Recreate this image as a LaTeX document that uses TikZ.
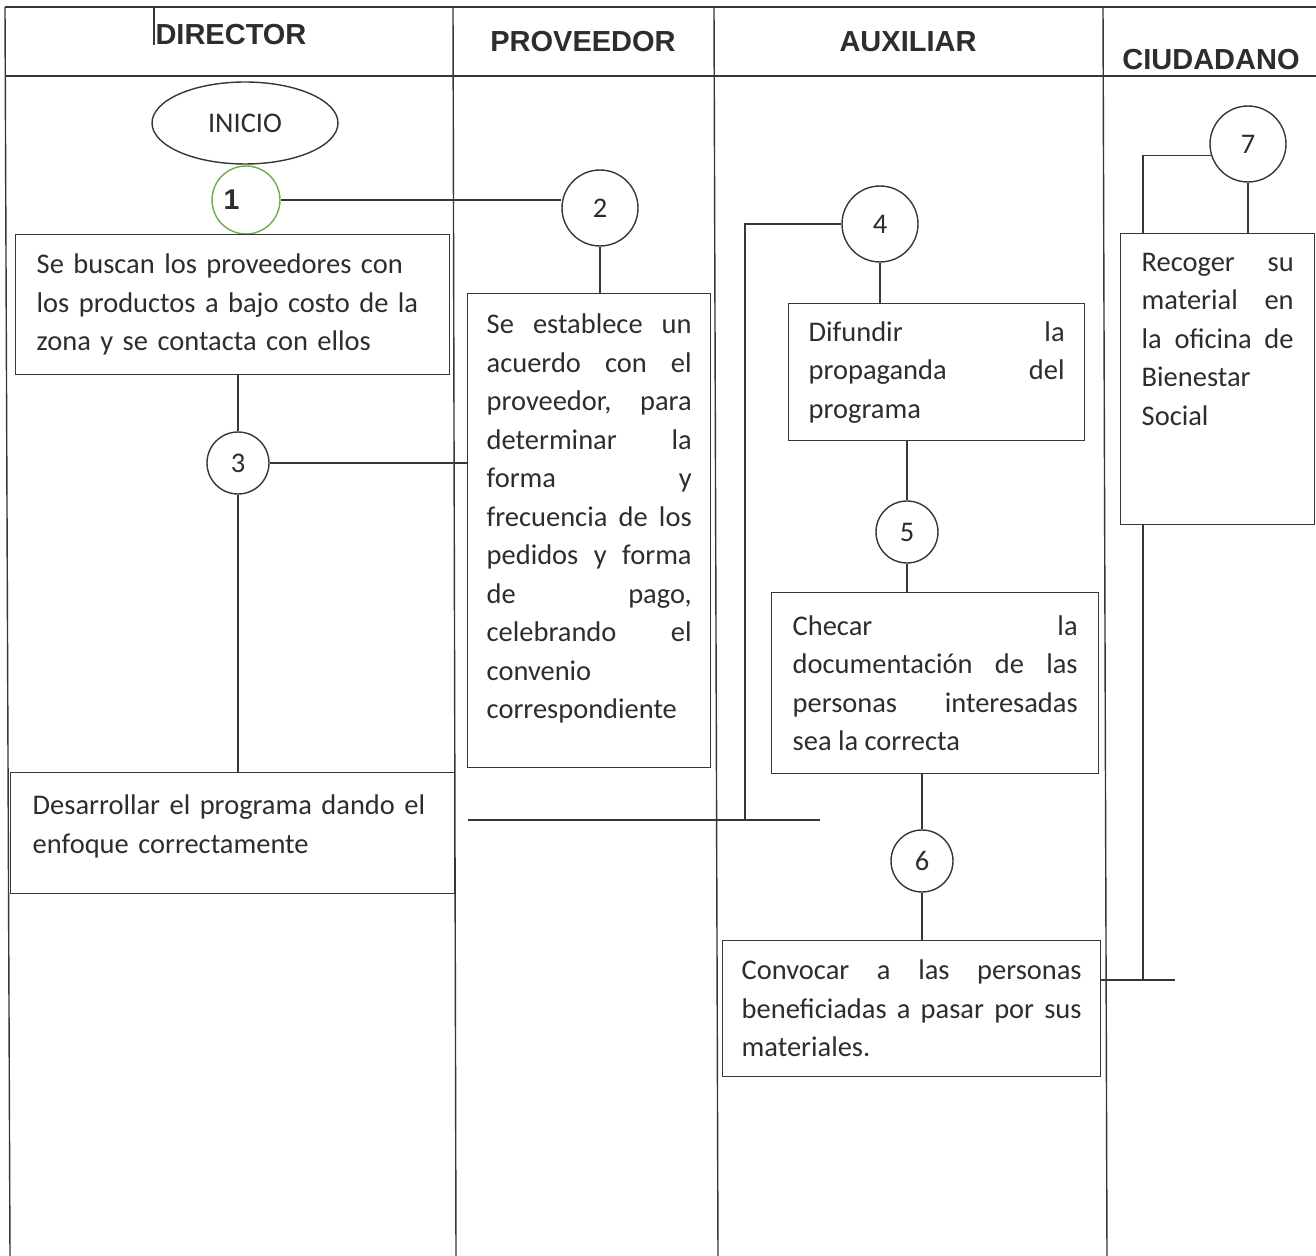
\documentclass[tikz,border=0pt]{standalone}
\usepackage{fontspec}
\setmainfont{Carlito}
\newfontfamily\arialfont{Liberation Sans}
\usetikzlibrary{shapes.geometric,calc,backgrounds}
\definecolor{trazo}{RGB}{55,55,55}
\definecolor{tinta}{RGB}{45,45,45}
\definecolor{verdeinicio}{RGB}{112,173,71}
\hyphenpenalty=10000
\exhyphenpenalty=10000
\tolerance=10000

\begin{document}
\begin{tikzpicture}[x=0.02cm, y=-0.02cm,
  linea/.style={draw=trazo, line width=0.8pt},
  encabezado/.style={font=\arialfont\bfseries\fontsize{16.5}{20}\selectfont, text=tinta},
  paso/.style={draw=trazo, fill=white, line width=0.8pt, rectangle, anchor=north west, inner ysep=4pt,
    align=justify, font=\fontsize{16.2}{21.9}\selectfont, text=tinta},
  numero/.style={draw=trazo, fill=white, line width=0.8pt, circle, inner sep=0pt,
    font=\fontsize{16.2}{20}\selectfont, text=tinta}]
\useasboundingbox (0,0) rectangle (1316,1256);

% Marco de la tabla
\draw[linea] (5,7) -- (1316,7);
\draw[linea] (5,76) -- (1316,76);
\draw[linea] (5,7) -- (10,1256);
\draw[linea] (453,7) -- (456,1256);
\draw[linea] (714,7) -- (718,1256);
\draw[linea] (1103,7) -- (1107,1256);
\draw[linea] (154,7) -- (154,45);

% Encabezados
\node[encabezado] (tdirector) at (231,35) {DIRECTOR};
\node[encabezado] (tproveedor) at (583,42) {PROVEEDOR};
\node[encabezado] (tauxiliar) at (908,42) {AUXILIAR};
\node[encabezado] (tciudadano) at (1211,60) {CIUDADANO};

% Director
\node[draw=trazo, line width=0.8pt, ellipse, minimum width=3.72cm, minimum height=1.64cm,
  font=\fontsize{16.2}{20}\selectfont, text=tinta] (inicio) at (245,123) {INICIO};
\node[numero, draw=verdeinicio, minimum size=1.36cm] (p1) at (246,200) {\makebox[0.9cm][l]{\arialfont\bfseries 1}};
\node[paso, minimum width=8.68cm, minimum height=2.8cm, text width=7.84cm, inner xsep=0.42cm,
  align=left] (buscar) at (15,234)
  {Se buscan los proveedores con\\los productos a bajo costo de la\\zona y se contacta con ellos};
\node[numero, minimum size=1.24cm] (p3) at (238,463) {3};
\node[paso, minimum width=8.88cm, minimum height=2.42cm, text width=8.0cm, inner xsep=0.44cm,
  inner ysep=0.45cm, align=left] (desarrollar) at (10,772)
  {\parbox[t][1.52cm][t]{8.0cm}{Desarrollar el programa dando el\\enfoque correctamente}};

% Proveedor
\node[numero, minimum size=1.52cm] (p2) at (600,208) {2};
\node[paso, minimum width=4.86cm, minimum height=9.48cm, text width=4.1cm, inner xsep=0.38cm,
  inner ysep=0.41cm] (acuerdo) at (467,293)
  {\parbox[t][8.66cm][t]{4.1cm}{Se establece un\linebreak acuerdo con el\linebreak proveedor, para\linebreak determinar la\linebreak
   forma y\linebreak frecuencia de los\linebreak pedidos y forma\linebreak de pago,\linebreak
   celebrando el\linebreak convenio\linebreak correspondiente}};

% Auxiliar
\node[numero, minimum size=1.52cm] (p4) at (880,224) {4};
\node[paso, minimum width=5.92cm, minimum height=2.74cm, text width=5.12cm, inner xsep=0.4cm] (difundir) at (788,303)
  {Difundir la\linebreak propaganda del\linebreak programa};
\node[numero, minimum size=1.24cm] (p5) at (907,532) {5};
\node[paso, minimum width=6.54cm, minimum height=3.62cm, text width=5.7cm, inner xsep=0.42cm] (checar) at (771,592)
  {Checar la\linebreak documentación de las\linebreak personas interesadas\linebreak sea la correcta};
\node[numero, minimum size=1.24cm] (p6) at (922,861) {6};
\node[paso, minimum width=7.56cm, minimum height=2.72cm, text width=6.8cm, inner xsep=0.38cm] (convocar) at (722,940)
  {Convocar a las personas\linebreak beneficiadas a pasar por sus\linebreak materiales.};

% Ciudadano
\node[numero, minimum size=1.52cm] (p7) at (1248,144) {7};
\node[paso, minimum width=3.88cm, minimum height=5.82cm, text width=3.04cm, inner xsep=0.42cm,
  inner ysep=0.39cm] (recoger) at (1120,233)
  {\parbox[t][5.04cm][t]{3.04cm}{Recoger su\linebreak material en\linebreak la oficina de\linebreak Bienestar\linebreak Social}};

% Conectores
\begin{scope}[on background layer]
\draw[linea] (p1.east) -- (p1.east -| p2.west);
\draw[linea] (p2.south) -- (p2.south |- acuerdo.north);
\draw[linea] (p3.north) -- (p3.north |- buscar.south);
\draw[linea] (p3.east) -- (p3.east -| acuerdo.west);
\draw[linea] (p3.south) -- (p3.south |- desarrollar.north);
\coordinate (retornoA) at (468,820);
\coordinate (retornoB) at (820,820);
\coordinate (retornoC) at (745,820);
\draw[linea] (retornoA) -- (retornoB);
\draw[linea] (retornoC) |- (p4.west);
\draw[linea] (p4.south) -- (p4.south |- difundir.north);
\draw[linea] (p5.north) -- (p5.north |- difundir.south);
\draw[linea] (p5.south) -- (p5.south |- checar.north);
\draw[linea] (p6.north) -- (p6.north |- checar.south);
\draw[linea] (p6.south) -- (p6.south |- convocar.north);
\coordinate (retornoD) at (1175,980);
\coordinate (retornoE) at (1143,980);
\draw[linea] (convocar.east |- retornoD) -- (retornoD);
\draw[linea] (retornoE) |- (p7.197);
\draw[linea] (p7.south) -- (p7.south |- recoger.north);
\end{scope}
\end{tikzpicture}
\end{document}
